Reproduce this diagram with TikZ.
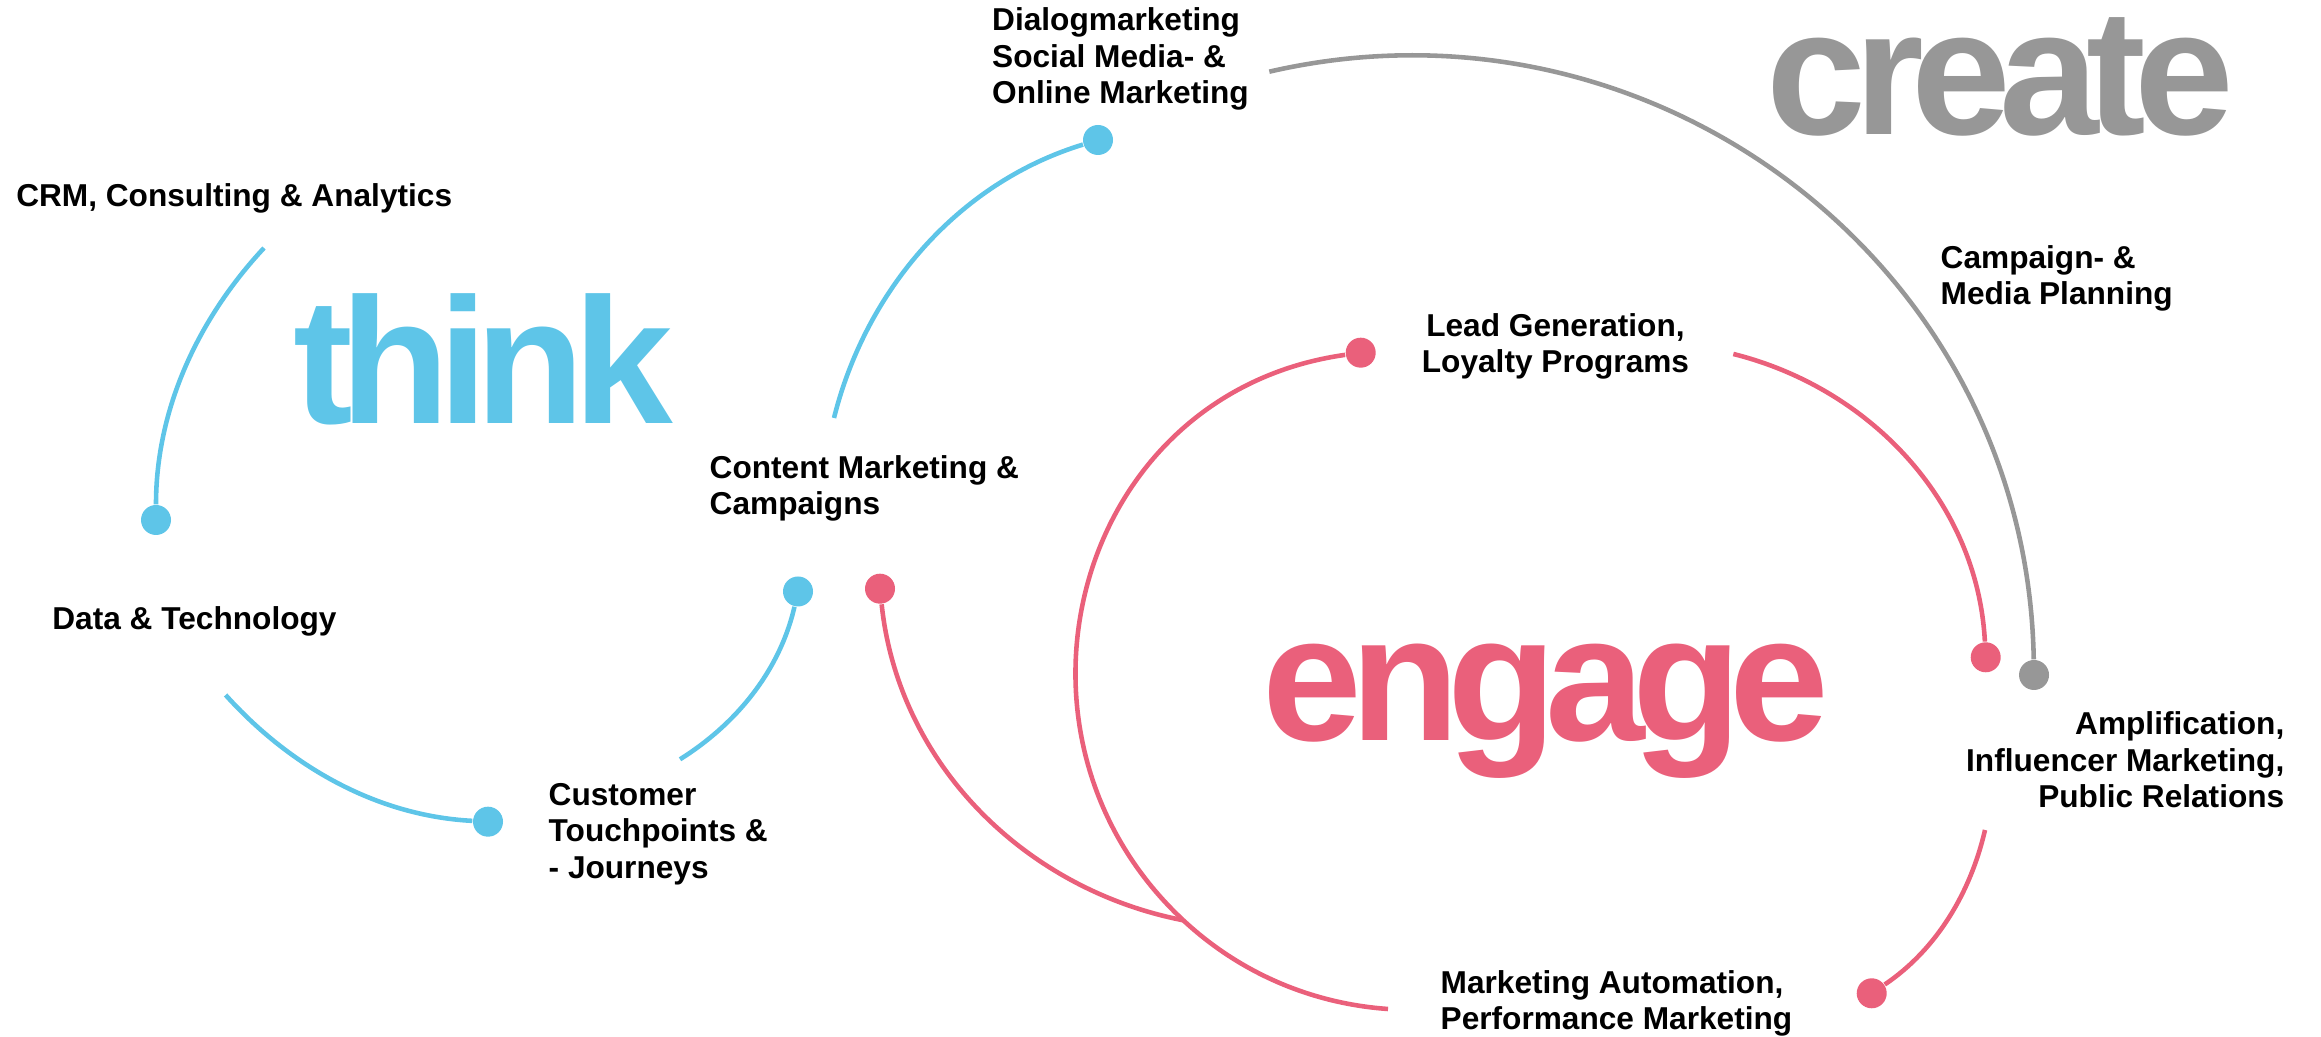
\documentclass[tikz,border=0pt]{standalone}
\usepackage{fontspec}
\setmainfont{Liberation Sans}
\newfontfamily\bigfont[LetterSpace=-6.8]{Liberation Sans}
\definecolor{thinkblue}{HTML}{5EC5E8}
\definecolor{engagepink}{HTML}{EA607B}
\definecolor{creategray}{HTML}{979797}

\begin{document}
\begin{tikzpicture}[
	lbl/.style={inner sep=0pt, font=\fontsize{9pt}{10.4pt}\selectfont\bfseries},
	bigword/.style={inner sep=0pt, anchor=base west, font=\fontsize{51pt}{51pt}\selectfont\bigfont\bfseries},
	arcline/.style={line width=1.3pt},
	dot/.style={circle, fill, inner sep=0pt, minimum size=0.3cm}]
	\useasboundingbox (0,0) rectangle (23.21,10.37);
	
	\node[bigword, text=thinkblue] (think) at (2.925,6.13) {think};
	\node[bigword, text=creategray] (create) at (17.66,9.022) {create};
	\node[bigword, text=engagepink] (engage) at (12.62,2.96) {engage};
	
	\node[lbl, anchor=base west] (crm) at (0.156,8.303) {CRM, Consulting \& Analytics};
	\node[lbl, anchor=base west] (data) at (0.517,4.07) {Data \& Technology};
	\node[lbl, anchor=base west, align=left] (cust) at (5.48,1.586) {Customer\\Touchpoints \&\\- Journeys};
	\node[lbl, anchor=base west, align=left] (cont) at (7.09,5.22) {Content Marketing \&\\Campaigns};
	\node[lbl, anchor=base west, align=left] (dial) at (9.915,9.33) {Dialogmarketing\\Social Media- \&\\Online Marketing};
	\node[lbl, anchor=base west, align=left] (camp) at (19.40,7.32) {Campaign- \&\\Media Planning};
	\node[lbl, anchor=base, align=center] (lead) at (15.555,6.643) {Lead Generation,\\Loyalty Programs};
	\node[lbl, anchor=base east, align=right] (amp) at (22.85,2.29) {Amplification,\\Influencer Marketing,\\Public Relations};
	\node[lbl, anchor=base west, align=left] (auto) at (14.40,0.07) {Marketing Automation,\\Performance Marketing};
	
	\node[dot, thinkblue] (crmdot) at (1.56,5.17) {};
	\node[dot, thinkblue] (custdot) at (4.88,2.153) {};
	\node[dot, thinkblue] (contdot) at (7.98,4.455) {};
	\node[dot, thinkblue] (dialdot) at (10.98,8.97) {};
	\node[dot, creategray] (campdot) at (20.34,3.62) {};
	\node[dot, engagepink] (contpink) at (8.80,4.483) {};
	\node[dot, engagepink] (leaddot) at (13.607,6.843) {};
	\node[dot, engagepink] (ampdot) at (19.857,3.797) {};
	\node[dot, engagepink] (autodot) at (18.717,0.437) {};
	
	\coordinate (crmend) at (2.64,7.89);
	\coordinate (dataend) at (2.256,3.42);
	\coordinate (custend) at (6.80,2.777);
	\coordinate (contend) at (8.34,6.19);
	\coordinate (dialend) at (12.693,9.653);
	\coordinate (leadend) at (17.333,6.83);
	\coordinate (ampend) at (19.85,2.07);
	\coordinate (cross) at (11.833,1.167);
	\coordinate (autoend) at (13.88,0.28);
	
	\draw[arcline, thinkblue] (crmend) to[out=227, in=90, looseness=0.88] (crmdot);
	\draw[arcline, thinkblue] (dataend) to[out=312, in=177, looseness=0.885] (custdot);
	\draw[arcline, thinkblue] (custend) to[out=32, in=257, looseness=0.885] (contdot);
	\draw[arcline, thinkblue] (contend) to[out=76, in=197, looseness=0.91] (dialdot);
	
	\draw[arcline, creategray] (dialend) to[out=13, in=91, looseness=1.045] (campdot);
	
	\draw[arcline, engagepink] (leaddot) to[out=188, in=137, looseness=1.19] (cross) to[out=317, in=176, looseness=0.88] (autoend);
	\draw[arcline, engagepink] (contpink) to[out=276, in=169, looseness=0.94] (cross);
	\draw[arcline, engagepink] (leadend) to[out=346, in=93, looseness=0.94] (ampdot);
	\draw[arcline, engagepink] (ampend) to[out=257, in=34, looseness=0.88] (autodot);
	
\end{tikzpicture}
\end{document}
